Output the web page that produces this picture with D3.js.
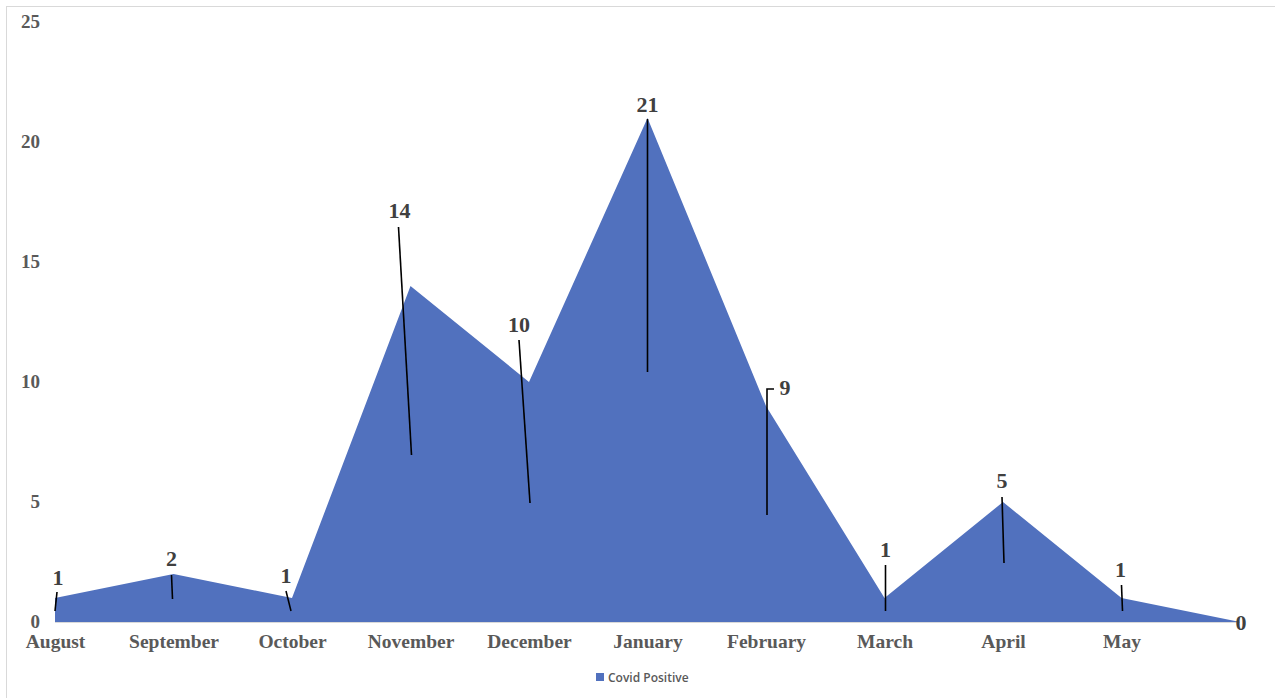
<!DOCTYPE html>
<html>
<head>
<meta charset="utf-8">
<script src="https://cdn.jsdelivr.net/npm/d3@7"></script>
<style>
  body { margin: 0; background: #fff; }
  svg { display: block; }
</style>
</head>
<body>
<div id="chart"></div>
<script>
// data
const months = ["August", "September", "October", "November", "December", "January", "February", "March", "April", "May", ""];
const covidPositive = [1, 2, 1, 14, 10, 21, 9, 1, 5, 1, 0];
const yTicks = [0, 5, 10, 15, 20, 25];
const seriesName = "Covid Positive";

// label placement, pixel offsets from the point: [labelDx, labelDy, leader points...]
const labelLayout = [
    { dx: 3, dy: -13, leader: [[2, -6], [0, 13]] },
    { dx: -2, dy: -8, leader: [[-2, 1], [-1, 25]] },
    { dx: -6, dy: -15, leader: [[-6, -7], [-1, 13]] },
    { dx: -11, dy: -68, leader: [[-12, -59], [1, 169]] },
    { dx: -10, dy: -50, leader: [[-10, -42], [1, 121]] },
    { dx: 0, dy: -6, leader: [[0, 1], [0, 254]] },
    { dx: 19, dy: -11, leader: [[8, -17], [1, -17], [1, 109]] },
    { dx: 1, dy: -41, leader: [[1, -33], [1, 13]] },
    { dx: -1, dy: -14, leader: [[-1, -5], [1, 61]] },
    { dx: -1, dy: -21, leader: [[0, -13], [1, 13]] },
    { dx: 1, dy: 8, leader: [] }
];

const W = 1275, H = 698;

const svg = d3.select("#chart")
    .append("svg")
    .attr("width", W)
    .attr("height", H);

// outer frame
svg.append("rect")
    .attr("x", 6.5).attr("y", 6.5)
    .attr("width", W + 20).attr("height", H + 20)
    .attr("fill", "none")
    .attr("stroke", "#d9d9d9");

const x = d3.scalePoint()
    .domain(d3.range(months.length))
    .range([55, 1240]);

const y = d3.scaleLinear()
    .domain([0, 25])
    .range([622, 22]);

// area
const area = d3.area()
    .x((d, i) => x(i))
    .y0(y(0))
    .y1(d => y(d));

svg.append("path")
    .datum(covidPositive)
    .attr("d", area)
    .attr("fill", "#5171be");

// baseline
svg.append("line")
    .attr("x1", x(0)).attr("x2", x(months.length - 1))
    .attr("y1", y(0) + 0.5).attr("y2", y(0) + 0.5)
    .attr("stroke", "#d9d9d9");

// y axis
const yAxis = svg.append("g")
    .attr("transform", "translate(40,0)")
    .call(d3.axisLeft(y).tickValues(yTicks).tickSize(0).tickPadding(0));
yAxis.select(".domain").remove();
yAxis.selectAll("text")
    .attr("dy", "0.3em")
    .style("font-family", "'Liberation Serif', 'Times New Roman', serif")
    .style("font-weight", "bold")
    .style("font-size", "19px")
    .style("fill", "#595959");

// x axis
const xAxis = svg.append("g")
    .attr("transform", "translate(0,634)")
    .call(d3.axisBottom(x).tickFormat(i => months[i]).tickSize(0).tickPadding(0));
xAxis.select(".domain").remove();
xAxis.selectAll("text")
    .attr("dy", "0.71em")
    .style("font-family", "'Liberation Serif', 'Times New Roman', serif")
    .style("font-weight", "bold")
    .style("font-size", "19.5px")
    .style("fill", "#595959");

// leader lines
const line = d3.line();
svg.append("g")
    .selectAll("path")
    .data(covidPositive)
    .join("path")
    .filter((d, i) => labelLayout[i].leader.length > 0)
    .attr("d", (d, i) => {
        const px = x(i), py = y(d);
        return line(labelLayout[i].leader.map(p => [px + p[0], py + p[1]]));
    })
    .attr("fill", "none")
    .attr("stroke", "#000")
    .attr("stroke-width", 1.6);

// data labels
svg.append("g")
    .selectAll("text")
    .data(covidPositive)
    .join("text")
    .attr("x", (d, i) => x(i) + labelLayout[i].dx)
    .attr("y", (d, i) => y(d) + labelLayout[i].dy)
    .attr("text-anchor", "middle")
    .style("font-family", "'Liberation Serif', 'Times New Roman', serif")
    .style("font-weight", "bold")
    .style("font-size", "22px")
    .style("fill", "#404040")
    .text(d => d);

// legend
const legend = svg.append("g").attr("transform", "translate(596,673)");
legend.append("rect")
    .attr("width", 8).attr("height", 8)
    .attr("fill", "#5171be");
legend.append("text")
    .attr("x", 12).attr("y", 8.5)
    .style("font-family", "'Open Sans', sans-serif")
    .style("font-weight", "600")
    .style("font-size", "12px")
    .style("fill", "#595959")
    .text(seriesName);
</script>
</body>
</html>
